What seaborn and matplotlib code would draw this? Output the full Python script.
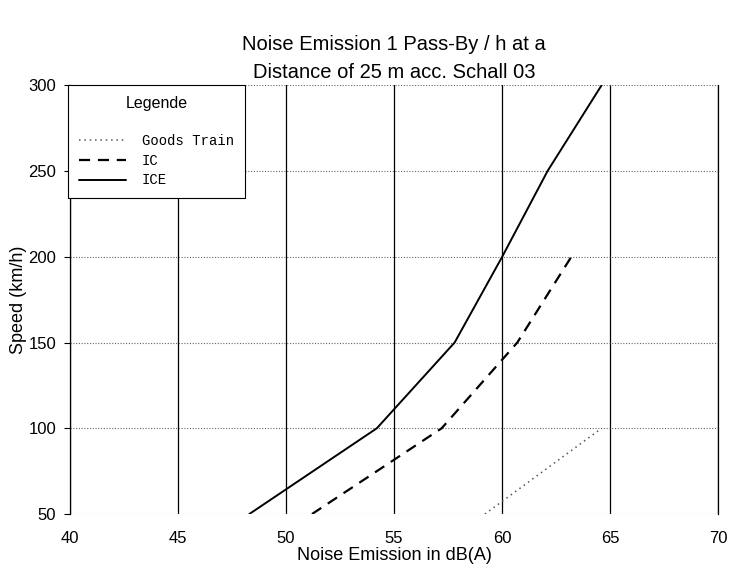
import numpy as np
import pandas as pd
import seaborn as sns
import matplotlib
matplotlib.use("Agg")
import matplotlib.pyplot as plt

# values: noise emission dB(A) vs. speed km/h
goods_db = [59.2, 64.6]
goods_speed = [50, 100]
ic_db = [51.2, 57.2, 60.7, 63.2]
ic_speed = [50, 100, 150, 200]
ice_db = [48.3, 54.2, 57.8, 60.0, 62.1, 64.6]
ice_speed = [50, 100, 150, 200, 250, 300]

x_ticks = [40, 45, 50, 55, 60, 65, 70]
y_ticks = [50, 100, 150, 200, 250, 300]

sns.set_style("white")
plt.rcParams['font.family'] = ['Liberation Sans', 'DejaVu Sans']
plt.rcParams['text.color'] = 'black'
plt.rcParams['axes.labelcolor'] = 'black'

fig = plt.figure(figsize=(7.36, 5.68), dpi=100)
ax = fig.add_axes([0.095, 0.095, 0.881, 0.755])

sns.lineplot(x=goods_db, y=goods_speed, ax=ax, color='#555555', lw=1.1,
             linestyle=(0, (1, 2.5)), label='Goods Train', sort=False)
sns.lineplot(x=ic_db, y=ic_speed, ax=ax, color='black', lw=1.6,
             linestyle=(0, (5, 3.5)), label='IC', sort=False)
sns.lineplot(x=ice_db, y=ice_speed, ax=ax, color='black', lw=1.4,
             linestyle='-', label='ICE', sort=False)

ax.set_xlim(40, 70)
ax.set_ylim(50, 300)
ax.set_xticks(x_ticks)
ax.set_yticks(y_ticks)

# vertical grid solid, horizontal grid dotted
for xv in x_ticks:
    ax.axvline(xv, color='black', lw=0.9, zorder=0)
for yv in y_ticks:
    ax.axhline(yv, color='#666666', lw=0.8, linestyle=(0, (1, 1.5)), zorder=0)

for side in ['top', 'bottom']:
    ax.spines[side].set_visible(False)
for side in ['left', 'right']:
    ax.spines[side].set_color('black')
    ax.spines[side].set_linewidth(0.9)

ax.tick_params(axis='y', which='both', left=True, length=4, width=0.8,
               pad=6, labelsize=12, colors='black')
ax.tick_params(axis='x', which='both', bottom=False, length=0, pad=12,
               labelsize=12, colors='black')

ax.set_xlabel('Noise Emission in dB(A)', fontsize=13, labelpad=1)
ax.set_ylabel('Speed (km/h)', fontsize=13, labelpad=1)
ax.set_title('Noise Emission 1 Pass-By / h at a\nDistance of 25 m acc. Schall 03',
             fontsize=14.5, linespacing=1.6, pad=5)

leg = ax.legend(loc='upper left', bbox_to_anchor=(-0.003, 1.0),
                title='Legende\n', frameon=True, fancybox=False,
                prop={'family': 'Liberation Mono', 'size': 10},
                title_fontproperties={'family': 'Liberation Sans', 'size': 11.5},
                handlelength=3.4, handletextpad=1.1, labelspacing=0.4,
                borderpad=0.8, borderaxespad=0)
leg.get_frame().set_edgecolor('black')
leg.get_frame().set_linewidth(0.8)
leg.get_frame().set_alpha(1)
leg._legend_box.align = "center"

plt.savefig('out.png', dpi=100)
